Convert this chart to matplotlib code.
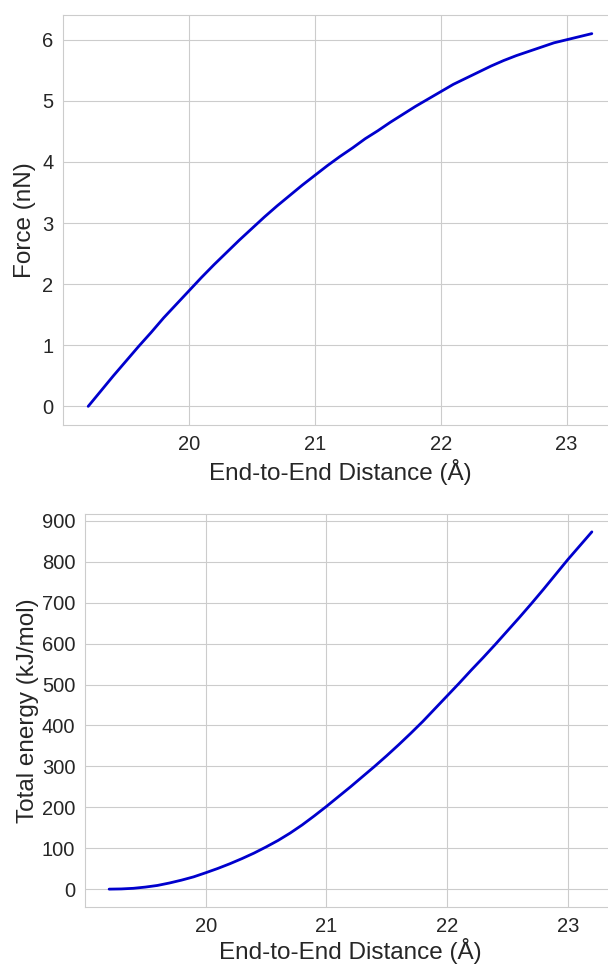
import matplotlib
matplotlib.use("Agg")
import matplotlib.pyplot as plt
import seaborn as sns

# distances (Angstrom)
distance = [19.2, 19.3, 19.4, 19.5, 19.6, 19.7, 19.8, 19.9, 20.0, 20.1, 20.2,
            20.3, 20.4, 20.5, 20.6, 20.7, 20.8, 20.9, 21.0, 21.1, 21.2,
            21.3, 21.4, 21.5, 21.6, 21.7, 21.8, 21.9, 22.0, 22.1, 22.2,
            22.3, 22.4, 22.5, 22.6, 22.7, 22.8, 22.9, 23.0, 23.1, 23.2]
force = [0.00, 0.25, 0.50, 0.74, 0.98, 1.21, 1.45, 1.67, 1.89, 2.11, 2.32,
         2.52, 2.72, 2.91, 3.10, 3.28, 3.45, 3.62, 3.78, 3.94, 4.09,
         4.23, 4.38, 4.51, 4.65, 4.78, 4.91, 5.03, 5.15, 5.27, 5.37,
         5.47, 5.57, 5.66, 5.74, 5.81, 5.88, 5.95, 6.00, 6.05, 6.10]
energy = [0, 0.5, 2, 5, 9, 15, 22, 30, 40, 50.5, 62,
          74.5, 88, 103, 119, 137, 157, 179, 202, 226, 250,
          275, 300, 326, 353, 381, 410, 441, 472, 503, 535,
          566, 598, 631, 664, 698, 733, 769, 805, 839, 873]

sns.set_style("whitegrid")
plt.rcParams['font.family'] = ['Liberation Sans', 'DejaVu Sans']

fig = plt.figure(figsize=(6.08, 9.68), dpi=100)
W, H = 608, 968

# top panel: force
ax1 = fig.add_axes([63 / W, 1 - 425 / H, (617 - 63) / W, 410 / H])
ax1.plot(distance, force, color='mediumblue', lw=2)
ax1.set_xlabel('End-to-End Distance (Å)', fontsize=17.5, color='#262626')
ax1.set_ylabel('Force (nN)', fontsize=17.5, color='#262626')

# bottom panel: energy
ax2 = fig.add_axes([85 / W, 1 - 907 / H, (616 - 85) / W, 393 / H])
ax2.plot(distance, energy, color='mediumblue', lw=2)
ax2.set_xlabel('End-to-End Distance (Å)', fontsize=17.5, color='#262626',
               labelpad=2)
ax2.set_ylabel('Total energy (kJ/mol)', fontsize=17.5, color='#262626',
               labelpad=2)
ax2.set_yticks(range(0, 901, 100))

for ax in (ax1, ax2):
    ax.set_xticks([20, 21, 22, 23])
    ax.tick_params(labelsize=14.5, colors='#262626')
    for s in ax.spines.values():
        s.set_color('#cccccc')

fig.savefig('out.png', dpi=100)
